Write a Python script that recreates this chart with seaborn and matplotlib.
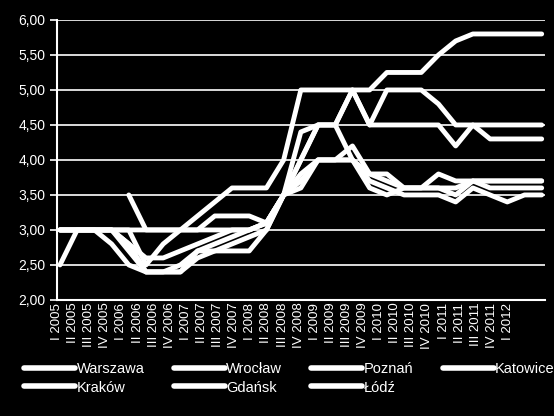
import numpy as np
import pandas as pd
import matplotlib
matplotlib.use("Agg")
import matplotlib.pyplot as plt
import seaborn as sns
from matplotlib.ticker import FuncFormatter

quarters = [f"{q} {y}" for y in range(2005, 2012) for q in ["I", "II", "III", "IV"]] + ["I 2012"]

nan = np.nan
warszawa = [3.0, 3.0, 3.0, 3.0, 3.0, 3.0, 3.0, 3.0, 3.2, 3.4, 3.6, 3.6, 3.6, 4.0, 5.0, 5.0, 5.0, 5.0, 5.0,
            5.25, 5.25, 5.25, 5.5, 5.7, 5.8, 5.8, 5.8, 5.8, 5.8]
krakow = [3.0, 3.0, 3.0, 3.0, 2.8, 2.6, 2.6, 2.7, 2.8, 2.9, 3.0, 3.0, 3.1, 3.5, 4.4, 4.5, 4.5, 5.0, 4.5,
          4.5, 4.5, 4.5, 4.5, 4.2, 4.5, 4.5, 4.5, 4.5, 4.5]
wroclaw = [3.0, 3.0, 3.0, 3.0, 2.7, 2.4, 2.4, 2.4, 2.7, 2.8, 2.9, 3.0, 3.1, 3.5, 4.0, 4.5, 4.5, 5.0, 4.5,
           5.0, 5.0, 5.0, 4.8, 4.5, 4.5, 4.3, 4.3, 4.3, 4.3]
gdansk = [nan, nan, nan, nan, 3.5, 3.0, 3.0, 3.0, 3.0, 3.2, 3.2, 3.2, 3.1, 3.5, 3.8, 4.0, 4.0, 4.0, 3.8,
          3.7, 3.6, 3.6, 3.6, 3.6, 3.7, 3.7, 3.7, 3.7, 3.7]
poznan = [2.5, 3.0, 3.0, 3.0, 3.0, 2.5, 2.8, 3.0, 3.0, 3.0, 3.0, 3.0, 3.1, 3.5, 3.6, 4.0, 4.0, 4.2, 3.8,
          3.8, 3.6, 3.6, 3.8, 3.7, 3.7, 3.7, 3.7, 3.7, 3.7]
lodz = [3.0, 3.0, 3.0, 2.8, 2.5, 2.4, 2.4, 2.4, 2.6, 2.7, 2.8, 2.9, 3.0, 3.5, 3.7, 4.0, 4.0, 4.0, 3.6,
        3.5, 3.6, 3.6, 3.6, 3.5, 3.7, 3.6, 3.6, 3.6, 3.6]
katowice = [3.0, 3.0, 3.0, 3.0, 2.8, 2.4, 2.4, 2.5, 2.7, 2.7, 2.7, 2.7, 3.0, 3.5, 4.0, 4.5, 4.5, 4.0, 3.7,
            3.6, 3.5, 3.5, 3.5, 3.4, 3.6, 3.5, 3.4, 3.5, 3.5]

series = {"Warszawa": warszawa, "Kraków": krakow, "Wrocław": wroclaw, "Gdańsk": gdansk,
          "Poznań": poznan, "Łódź": lodz, "Katowice": katowice}

df = pd.DataFrame(series)
df["idx"] = np.arange(len(quarters))
long = df.melt(id_vars="idx", var_name="miasto", value_name="wartosc").dropna()

sns.set_style("dark")
plt.rcParams["font.family"] = ["Liberation Sans Narrow", "Liberation Sans", "DejaVu Sans"]
plt.rcParams["text.color"] = "white"

fig = plt.figure(figsize=(5.54, 4.16), dpi=100, facecolor="black")
ax = fig.add_axes([0.103, 0.279, 0.881, 0.673], facecolor="black")

sns.lineplot(data=long, x="idx", y="wartosc", hue="miasto", hue_order=list(series),
             palette=["white"] * 7, linewidth=3.5, ax=ax, legend=True)
for ln in ax.lines:
    ln.set_solid_capstyle("round")
    ln.set_solid_joinstyle("round")

ax.set_ylim(2.0, 6.0)
ax.set_yticks(np.arange(2.0, 6.01, 0.5))
ax.yaxis.set_major_formatter(FuncFormatter(lambda v, p: f"{v:.2f}".replace(".", ",")))
ax.grid(axis="y", color="white", linewidth=1.2)
ax.grid(axis="x", visible=False)
ax.set_xlim(-0.17, 28.2)

# category labels are spaced slightly tighter than the data points (as in the original)
r = 16.1 / 17.2
pos = [-0.17 + r * i for i in range(len(quarters))]
ax.set_xticks(pos)
ax.set_xticklabels(quarters, rotation=90, fontsize=9.5, color="white")
ax.set_xticks([-0.17 + r * (i - 0.5) for i in range(4, 29, 4)], minor=True)
ax.tick_params(axis="x", which="major", length=0, pad=2)
ax.tick_params(axis="x", which="minor", length=5, color="white", width=1.5)
ax.tick_params(axis="y", length=5, color="white", width=1.2, labelsize=10, labelcolor="white", left=True)
ax.set_xlabel("")
ax.set_ylabel("")
for s in ["top", "right"]:
    ax.spines[s].set_visible(False)
for s in ["left", "bottom"]:
    ax.spines[s].set_visible(True)
    ax.spines[s].set_color("white")
    ax.spines[s].set_linewidth(1.5)

handles, labels = ax.get_legend_handles_labels()
ax.legend_.remove()
leg = fig.legend(handles, labels, loc="lower left", bbox_to_anchor=(0.02, 0.02), ncol=4,
                 frameon=False, fontsize=10.5, handlelength=3.5, handletextpad=0.1,
                 columnspacing=2.0, labelspacing=0.3)
for h in leg.legend_handles:
    h.set_linewidth(4)
    h.set_solid_capstyle("round")

fig.savefig("out.png", dpi=100, facecolor="black")
